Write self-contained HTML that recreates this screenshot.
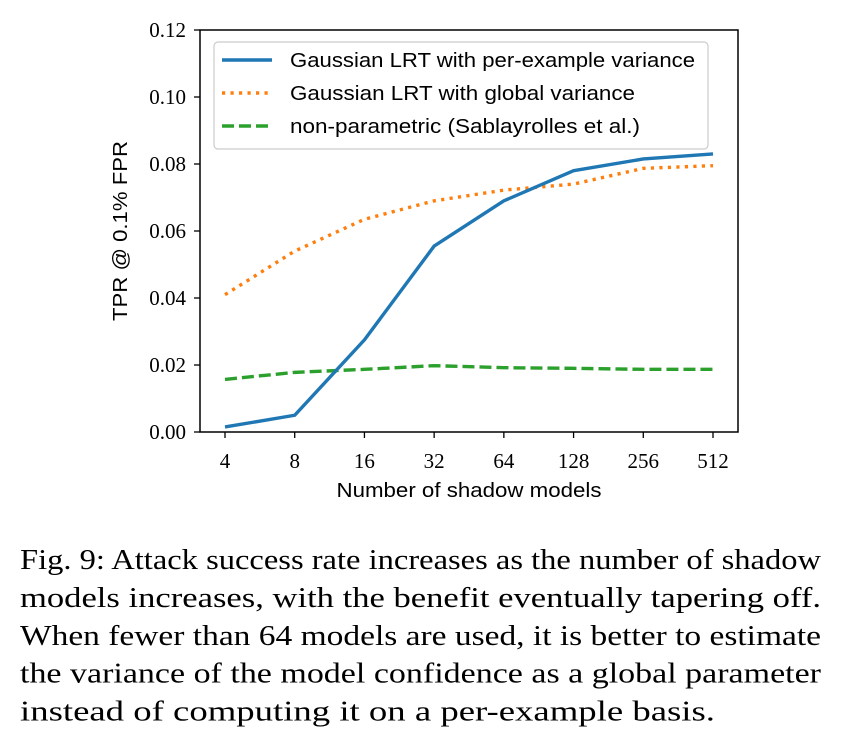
<!DOCTYPE html>
<html><head><meta charset="utf-8"><style>
body{margin:0;background:#fff;width:864px;height:748px;overflow:hidden}
svg{position:absolute;left:0;top:0}
</style></head><body>
<svg width="864" height="748" id="chart"></svg>
<script>
const categories=["4","8","16","32","64","128","256","512"];
const perExample=[0.0015,0.005,0.0275,0.0555,0.069,0.078,0.0815,0.083];
const globalVar=[0.041,0.054,0.0635,0.069,0.0722,0.074,0.0787,0.0795];
const nonParam=[0.0157,0.0178,0.0187,0.0198,0.0192,0.019,0.0187,0.0187];
const yTicks=[0,0.02,0.04,0.06,0.08,0.10,0.12];
const yTickLabels=["0.00","0.02","0.04","0.06","0.08","0.10","0.12"];
const NS="http://www.w3.org/2000/svg";
const svg=document.getElementById('chart');
const L=200,R=738,T=30,B=432;
const x=i=>225+i*(713-225)/(categories.length-1);
const y=v=>B-(v/0.12)*(B-T);
function mk(tag,attrs,parent){const e=document.createElementNS(NS,tag);for(const k in attrs)e.setAttribute(k,attrs[k]);(parent||svg).appendChild(e);return e;}
yTicks.forEach((v,i)=>{
 const t=mk('line',{x1:L-6,x2:L,y1:y(v),y2:y(v),stroke:'#000','stroke-width':1.3});
 
 
 const tx=mk('text',{x:L-14,y:y(v)+7,'text-anchor':'end','font-family':'Liberation Serif, serif','font-size':21});
 tx.textContent=yTickLabels[i];
 
 
});
categories.forEach((c,i)=>{
 const t=mk('line',{x1:x(i),x2:x(i),y1:B,y2:B+6,stroke:'#000','stroke-width':1.3});
 
 
 const tx=mk('text',{x:x(i),y:B+36,'text-anchor':'middle','font-family':'Liberation Serif, serif','font-size':21});
 tx.textContent=c;
 
 
});
function series(vals,color,dash,name){
 const p=mk('polyline',{points:vals.map((v,i)=>x(i)+','+y(v)).join(' '),fill:'none',stroke:color,'stroke-width':3.4,'stroke-dasharray':dash,'stroke-linejoin':'round'});
 
 
}
series(nonParam,'#2ca02c','12 5','line-non-parametric');
series(globalVar,'#ff7f0e','3.2 5.3','line-global-variance');
series(perExample,'#1f77b4','none','line-per-example-variance');
const frame=mk('rect',{x:L,y:T,width:R-L,height:B-T,fill:'none',stroke:'#000','stroke-width':1.5});


const lg=mk('g',{});


mk('rect',{x:214,y:42,width:494,height:107,rx:4,fill:'rgba(255,255,255,0.85)',stroke:'#ccc','stroke-width':1.2},lg);
const entries=[["Gaussian LRT with per-example variance",'#1f77b4','none',405],["Gaussian LRT with global variance",'#ff7f0e','3.2 5.3',345],["non-parametric (Sablayrolles et al.)",'#2ca02c','12 5',350]];
entries.forEach((e,i)=>{
 const yy=60+i*33;
 const ln=mk('line',{x1:222,x2:272,y1:yy,y2:yy,stroke:e[1],'stroke-width':3.4,'stroke-dasharray':e[2]},lg);
 
 
 const t=mk('text',{x:290,y:yy+7,'font-family':'Liberation Sans, sans-serif','font-size':20,textLength:e[3],lengthAdjust:'spacingAndGlyphs'},lg);
 t.textContent=e[0];
 
 
});
const xl=mk('text',{x:469,y:497,'text-anchor':'middle','font-family':'Liberation Sans, sans-serif','font-size':20,textLength:265,lengthAdjust:'spacingAndGlyphs'});
xl.textContent='Number of shadow models';


const yl=mk('text',{x:0,y:0,'text-anchor':'middle','font-family':'Liberation Sans, sans-serif','font-size':20,textLength:180,lengthAdjust:'spacingAndGlyphs',transform:'translate(127,231) rotate(-90)'});
yl.textContent='TPR @ 0.1% FPR';


const capLines=["Fig. 9: Attack success rate increases as the number of shadow","models increases, with the benefit eventually tapering off.","When fewer than 64 models are used, it is better to estimate","the variance of the model confidence as a global parameter","instead of computing it on a per-example basis."];
const capLens=[801,801,801,801,695];
const cap=mk('g',{});


capLines.forEach((s,i)=>{
 const t=mk('text',{x:20,y:569+i*37.9,'font-family':'Liberation Serif, serif','font-size':28,textLength:capLens[i],lengthAdjust:'spacingAndGlyphs'},cap);
 t.textContent=s;
 
 
});
</script>
</body></html>
